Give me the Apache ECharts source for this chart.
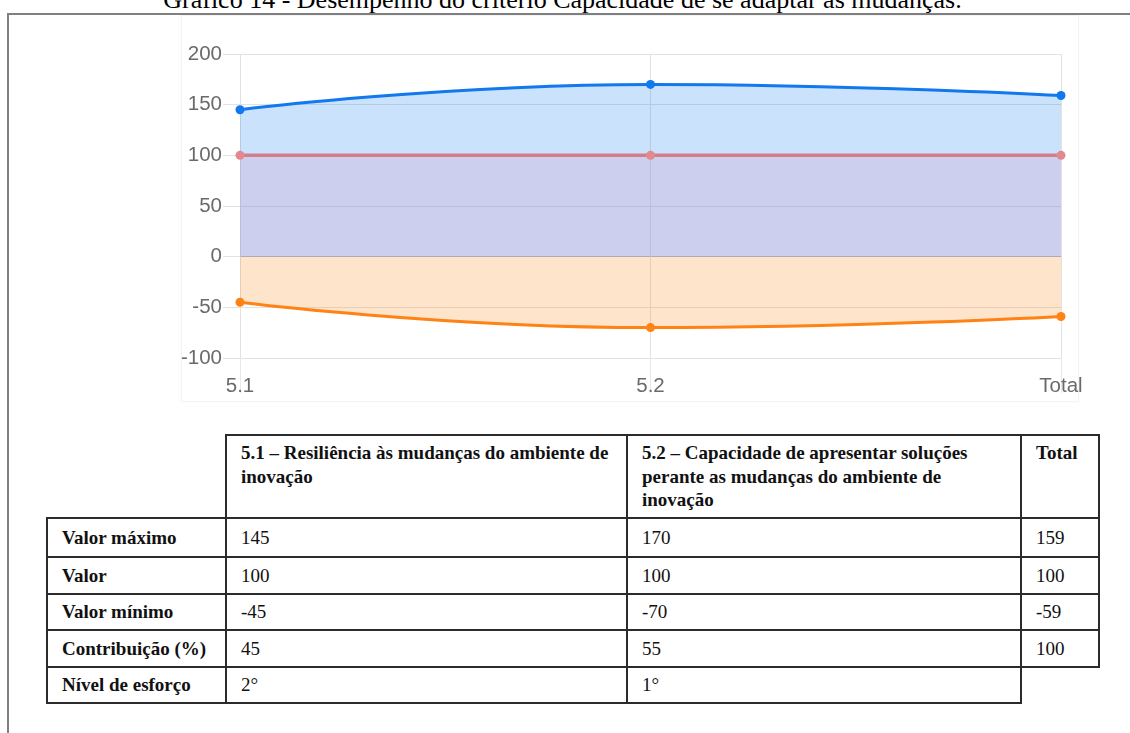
<!DOCTYPE html>
<html lang="pt">
<head>
<meta charset="utf-8">
<title>Gráfico 14</title>
<script src="https://cdn.jsdelivr.net/npm/echarts@6/dist/echarts.min.js"></script>
<style>
  html, body { margin: 0; padding: 0; background: #fff; overflow: hidden; }
  body { width: 1130px; height: 733px; position: relative; }
  #caption {
    position: absolute; left: 0; top: -13px; width: 1125px;
    text-align: center; font-family: "Liberation Serif", "Times New Roman", serif;
    font-size: 26px; line-height: 26px; color: #000; white-space: nowrap;
  }
  #frame {
    position: absolute; left: 7px; top: 13px; width: 1140px; height: 740px;
    border-top: 2px solid #808080; border-left: 2px solid #808080;
  }
  #chartBox {
    position: absolute; left: 181px; top: 15px; width: 896px; height: 385px;
    border: 1px solid #f4f4f4; box-shadow: 0 0 3px rgba(0,0,0,0.04);
  }
  #chart { position: absolute; left: 0; top: 0; width: 1130px; height: 410px; }
  #tbl {
    position: absolute; left: 46px; top: 434px; width: 1052px;
    border-collapse: collapse; table-layout: fixed;
    font-family: "Liberation Serif", "Times New Roman", serif; font-size: 19px; color: #111;
  }
  #tbl td, #tbl th {
    border: 2px solid #2b2b2b; padding: 0 14px; text-align: left;
    vertical-align: middle; font-weight: normal; line-height: 23.5px;
  }
  #tbl th { vertical-align: top; padding-top: 5px; font-weight: bold; }
  #tbl td.lbl { font-weight: bold; padding-left: 14px; }
  #tbl td.blank { border: none; }
</style>
</head>
<body>
<div id="caption">Gráfico 14 - Desempenho do critério Capacidade de se adaptar às mudanças.</div>
<div id="frame"></div>
<div id="chartBox"></div>
<div id="chart"></div>
<table id="tbl"></table>
<script>
// Criteria on the horizontal axis
const categories = ['5.1', '5.2', 'Total'];
// Performance series
const maxValues = [145, 170, 159];
const values = [100, 100, 100];
const minValues = [-45, -70, -59];
const contributions = [45, 55, 100];
const effortLevels = ['2°', '1°'];

// Table text
const headerLabels = [
  '5.1 – Resiliência às mudanças do ambiente de inovação',
  '5.2 – Capacidade de apresentar soluções perante as mudanças do ambiente de inovação',
  'Total'
];
const rowLabels = ['Valor máximo', 'Valor', 'Valor mínimo', 'Contribuição (%)', 'Nível de esforço'];

// Value-axis ticks
const yTicks = [-100, -50, 0, 50, 100, 150, 200];

const chart = echarts.init(document.getElementById('chart'), null, { renderer: 'canvas' });

const gridColor = '#e2e2e2';
const splitColors = yTicks.map(v => (v === 0 ? '#bcbcbc' : gridColor));
const labelFont = { fontFamily: 'Liberation Sans, Arial, sans-serif', fontSize: 20.5, color: '#6a6a6a' };

chart.setOption({
  animation: false,
  grid: { left: 240, right: 69, top: 54, bottom: 52 },
  xAxis: {
    type: 'category',
    data: categories,
    boundaryGap: false,
    axisLine: { show: false, onZero: false },
    axisTick: { show: true, length: 35, lineStyle: { color: '#e8e8e8' } },
    axisLabel: Object.assign({ margin: 18 }, labelFont),
    splitLine: { show: true, lineStyle: { color: gridColor, width: 1 } }
  },
  yAxis: {
    type: 'value',
    min: yTicks[0],
    max: yTicks[yTicks.length - 1],
    interval: 50,
    axisLine: { show: false },
    axisTick: { show: true, length: 17, lineStyle: { color: gridColor } },
    axisLabel: Object.assign({ margin: 18 }, labelFont),
    splitLine: { show: true, lineStyle: { color: splitColors, width: 1 } }
  },
  series: [
    {
      name: 'Valor máximo',
      type: 'line',
      data: maxValues,
      smooth: true,
      symbol: 'circle',
      symbolSize: 9,
      lineStyle: { color: '#1278ee', width: 3 },
      itemStyle: { color: '#1278ee' },
      areaStyle: { color: 'rgba(10,120,240,0.21)', opacity: 1 },
      z: 3
    },
    {
      name: 'Valor',
      type: 'line',
      data: values,
      smooth: true,
      symbol: 'circle',
      symbolSize: 9,
      lineStyle: { color: '#d47e8b', width: 3.5 },
      itemStyle: { color: '#e2888f' },
      areaStyle: { color: 'rgba(208,156,194,0.25)', opacity: 1 },
      z: 4
    },
    {
      name: 'Valor mínimo',
      type: 'line',
      data: minValues,
      smooth: true,
      symbol: 'circle',
      symbolSize: 9,
      lineStyle: { color: '#ff8214', width: 3 },
      itemStyle: { color: '#ff8214' },
      areaStyle: { color: 'rgba(255,133,23,0.22)', opacity: 1 },
      z: 3
    }
  ]
});

// Summary table
const tbl = document.getElementById('tbl');
const colWidths = [179, 401, 394, 78];
const rowHeights = [83, 39, 37, 36, 37, 36];
let html = '<colgroup>' + colWidths.map(w => '<col style="width:' + w + 'px">').join('') + '</colgroup>';
html += '<tr style="height:' + rowHeights[0] + 'px"><td class="blank"></td>' +
  headerLabels.map(h => '<th>' + h + '</th>').join('') + '</tr>';
const rows = [maxValues, values, minValues, contributions];
rows.forEach((r, i) => {
  html += '<tr style="height:' + rowHeights[i + 1] + 'px"><td class="lbl">' + rowLabels[i] + '</td>' +
    r.map(v => '<td>' + v + '</td>').join('') + '</tr>';
});
html += '<tr style="height:' + rowHeights[5] + 'px"><td class="lbl">' + rowLabels[4] + '</td>' +
  effortLevels.map(v => '<td>' + v + '</td>').join('') + '<td class="blank"></td></tr>';
tbl.innerHTML = html;
</script>
</body>
</html>
